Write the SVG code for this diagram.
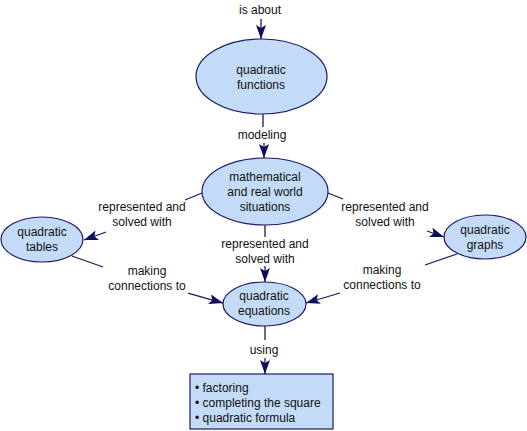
<svg xmlns="http://www.w3.org/2000/svg" width="527" height="431" viewBox="0 0 527 431">
<defs>
<style>
.node{fill:#c3dbf7;stroke:#1a1a66;stroke-width:1.2}
.line{stroke:#1a1a5e;stroke-width:1.3;fill:none}
.arr{stroke:#1a1a5e;stroke-width:1.3;fill:none;marker-end:url(#ah)}
text{font-family:"Liberation Sans",Arial,sans-serif;font-size:12px;fill:#111}
.c{text-anchor:middle}
</style>
<marker id="ah" viewBox="0 0 14 10" refX="14" refY="5" markerWidth="14" markerHeight="10" markerUnits="userSpaceOnUse" orient="auto">
<path d="M0,0 L14,5 L0,10 L3,5 Z" fill="#0d0d5a"/>
</marker>
</defs>
<rect width="527" height="431" fill="#ffffff"/>
<g id="connectors">
<text class="c" x="260" y="14">is about</text>
<line class="arr" x1="261" y1="19" x2="261" y2="39"/>
<line class="line" x1="263" y1="114" x2="263" y2="127"/>
<text class="c" x="262" y="139">modeling</text>
<line class="arr" x1="264" y1="143" x2="264" y2="158"/>
<line class="line" x1="202" y1="193" x2="185" y2="200"/>
<text class="c" x="142" y="211">represented and</text>
<text class="c" x="142" y="226">solved with</text>
<line class="arr" x1="106" y1="232" x2="84" y2="240"/>
<line class="line" x1="265" y1="225" x2="265" y2="237"/>
<text class="c" x="265" y="248">represented and</text>
<text class="c" x="265" y="263">solved with</text>
<line class="arr" x1="265" y1="266" x2="265" y2="282"/>
<line class="line" x1="328" y1="193" x2="343" y2="199"/>
<text class="c" x="385" y="211">represented and</text>
<text class="c" x="385" y="226">solved with</text>
<line class="arr" x1="427" y1="231" x2="444" y2="237"/>
<line class="line" x1="72" y1="256" x2="103" y2="267"/>
<text class="c" x="147" y="275">making</text>
<text class="c" x="147" y="290">connections to</text>
<line class="arr" x1="188" y1="293" x2="223" y2="303"/>
<line class="line" x1="457" y1="254" x2="425" y2="265"/>
<text class="c" x="382" y="274">making</text>
<text class="c" x="382" y="289">connections to</text>
<line class="arr" x1="340" y1="293" x2="306" y2="303"/>
<line class="line" x1="265" y1="326" x2="265" y2="340"/>
<text class="c" x="264" y="354">using</text>
<line class="arr" x1="265" y1="358" x2="265" y2="374"/>
</g>
<g id="n-functions">
<ellipse class="node" cx="261.5" cy="76.5" rx="65.5" ry="37.5"/>
<text class="c" x="261" y="74">quadratic</text>
<text class="c" x="261" y="89">functions</text>
</g>
<g id="n-situations">
<ellipse class="node" cx="265" cy="191.5" rx="63" ry="33.5"/>
<text class="c" x="265" y="181">mathematical</text>
<text class="c" x="265" y="196">and real world</text>
<text class="c" x="265" y="211">situations</text>
</g>
<g id="n-tables">
<ellipse class="node" cx="42" cy="239.5" rx="41" ry="22.5"/>
<text class="c" x="42" y="236">quadratic</text>
<text class="c" x="42" y="251">tables</text>
</g>
<g id="n-graphs">
<ellipse class="node" cx="485" cy="237" rx="41" ry="22"/>
<text class="c" x="485" y="234">quadratic</text>
<text class="c" x="485" y="249">graphs</text>
</g>
<g id="n-equations">
<ellipse class="node" cx="264.5" cy="304" rx="41.5" ry="22"/>
<text class="c" x="264" y="300">quadratic</text>
<text class="c" x="264" y="315">equations</text>
</g>
<g id="n-methods">
<rect class="node" x="190" y="374" width="143" height="55"/>
<text x="195" y="392">• factoring</text>
<text x="195" y="407">• completing the square</text>
<text x="195" y="422">• quadratic formula</text>
</g>
</svg>
